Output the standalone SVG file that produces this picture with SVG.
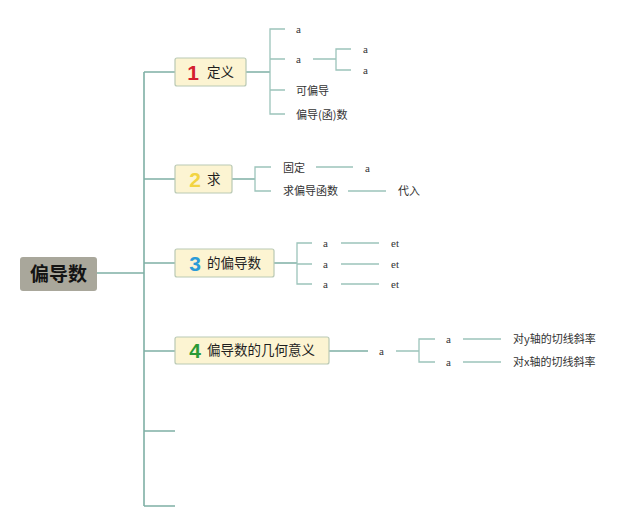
<svg xmlns="http://www.w3.org/2000/svg" width="640" height="526" viewBox="0 0 640 526">
<style>
.bg{fill:#ffffff}
.main{fill:none;stroke:#7fb0a5;stroke-width:1.6}
.sub{fill:none;stroke:#9cc4bb;stroke-width:1.3}
.topic{fill:#fcf4d2;stroke:#b9c9b4;stroke-width:1.2}
.root{fill:#a9a79b}
.rt{font-family:"Noto Sans CJK SC","Noto Sans",sans-serif;font-size:19px;font-weight:bold;fill:#141414}
.tt{font-family:"Noto Sans CJK SC","Noto Sans",sans-serif;font-size:13.5px;fill:#1e1e1e}
.num{font-family:"Liberation Sans","Noto Sans",sans-serif;font-size:21px;font-weight:bold}
.lt{font-family:"Noto Sans CJK SC","Noto Sans",sans-serif;font-size:11px;fill:#333}
.la{font-family:"Liberation Serif","Noto Sans CJK SC",serif;font-size:11px;fill:#333}
</style>
<rect class="bg" x="0" y="0" width="640" height="526"/>
<g id="connectors">
<path class="main" d="M97 273H144M144 72V506M144 72H175M144 179H175M144 263H175M144 351H175M144 431H175M144 506H175"/>
<path class="main" d="M246 72H270M232 179H255M274 263H297M329 351H368"/>
<path class="sub" d="M285 29H270V114H285M270 59H285M270 90H285"/>
<path class="sub" d="M313 59H336M351 49H336V70H351"/>
<path class="sub" d="M271 167H255V191H271M316 167H353M348 191H386"/>
<path class="sub" d="M312 243H297V284H312M297 264H312M341 243H379M341 264H379M341 284H379"/>
<path class="sub" d="M396 351H419M435 339H419V362H435M463 339H501M463 362H501"/>
</g>
<g id="root">
<rect class="root" x="20" y="257" width="77" height="34" rx="3"/>
<text class="rt" x="58.5" y="281" text-anchor="middle">偏导数</text>
</g>
<g id="topic1">
<rect class="topic" x="175" y="58" width="71" height="28" rx="2"/>
<text class="num" x="193" y="80" text-anchor="middle" fill="#d42030">1</text>
<text class="tt" x="207" y="77">定义</text>
</g>
<g id="topic2">
<rect class="topic" x="175" y="165" width="57" height="28" rx="2"/>
<text class="num" x="195" y="187" text-anchor="middle" fill="#f2d442">2</text>
<text class="tt" x="207" y="184">求</text>
</g>
<g id="topic3">
<rect class="topic" x="175" y="249" width="99" height="28" rx="2"/>
<text class="num" x="195" y="271" text-anchor="middle" fill="#2a9bd8">3</text>
<text class="tt" x="207" y="268">的偏导数</text>
</g>
<g id="topic4">
<rect class="topic" x="175" y="337" width="154" height="27" rx="2"/>
<text class="num" x="195" y="358" text-anchor="middle" fill="#2a9a36">4</text>
<text class="tt" x="207" y="355">偏导数的几何意义</text>
</g>
<g id="t1-leaves">
<text class="la" x="296" y="33">a</text>
<text class="la" x="296" y="63">a</text>
<text class="la" x="363" y="53">a</text>
<text class="la" x="363" y="74">a</text>
<text class="lt" x="296" y="95">可偏导</text>
<text class="lt" x="296" y="119">偏导(函)数</text>
</g>
<g id="t2-leaves">
<text class="lt" x="283" y="172">固定</text>
<text class="la" x="365" y="172">a</text>
<text class="lt" x="283" y="195">求偏导函数</text>
<text class="lt" x="398" y="195">代入</text>
</g>
<g id="t3-leaves">
<text class="la" x="323" y="247">a</text>
<text class="la" x="323" y="268">a</text>
<text class="la" x="323" y="288">a</text>
<text class="la" x="391" y="247">et</text>
<text class="la" x="391" y="268">et</text>
<text class="la" x="391" y="288">et</text>
</g>
<g id="t4-leaves">
<text class="la" x="379" y="355">a</text>
<text class="la" x="446" y="343">a</text>
<text class="la" x="446" y="366">a</text>
<text class="lt" x="513" y="343">对y轴的切线斜率</text>
<text class="lt" x="513" y="366">对x轴的切线斜率</text>
</g>
</svg>
